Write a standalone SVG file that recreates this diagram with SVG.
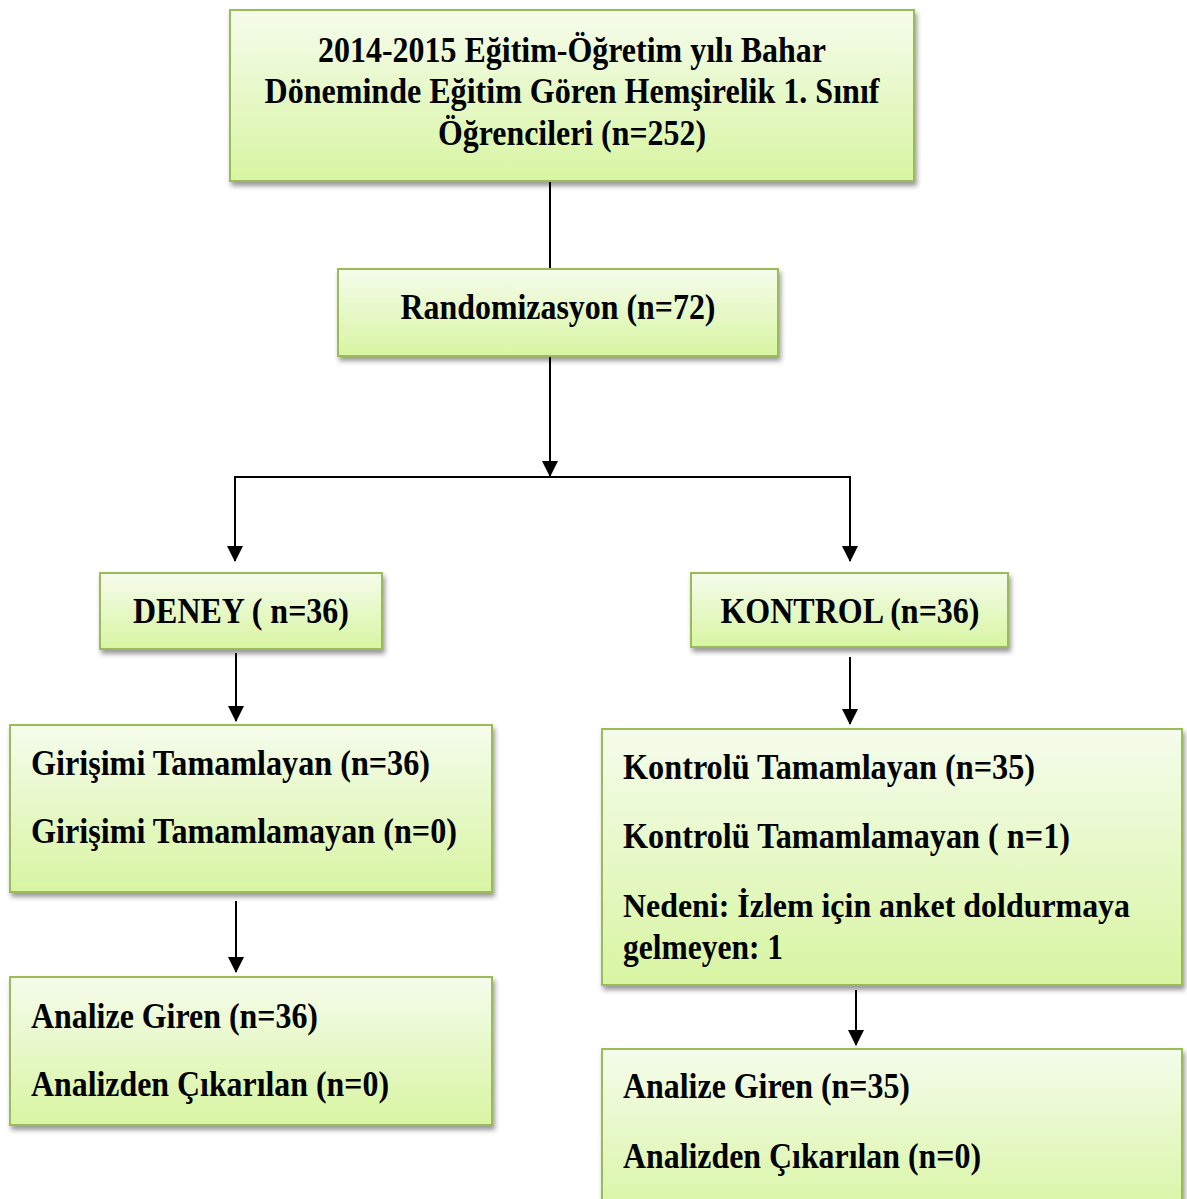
<svg xmlns="http://www.w3.org/2000/svg" width="1187" height="1199" viewBox="0 0 1187 1199">
<style>
.box{fill:url(#g);stroke:#9bbb59;stroke-width:2;filter:url(#sh)}
.t{font-family:"Liberation Serif","Times New Roman",serif;font-weight:bold;font-size:36px;fill:#000}
.c{text-anchor:middle}
.ln{stroke:#000;stroke-width:2;fill:none}
</style>
<defs>
<linearGradient id="g" x1="0" y1="0" x2="0" y2="1">
<stop offset="0" stop-color="#f5fcec"/>
<stop offset="1" stop-color="#d8f5a2"/>
</linearGradient>
<filter id="sh" x="-5%" y="-5%" width="115%" height="125%">
<feDropShadow dx="2" dy="4" stdDeviation="2.5" flood-color="#000" flood-opacity="0.4"/>
</filter>
<marker id="ah" markerWidth="16" markerHeight="16" viewBox="0 0 16 16" refX="15" refY="8" orient="auto" markerUnits="userSpaceOnUse">
<path d="M0,0 L16,8 L0,16 Z" fill="#000"/>
</marker>
</defs>
<g id="connectors">
<line class="ln" x1="550" y1="181" x2="550" y2="269"/>
<line class="ln" x1="550" y1="356" x2="550" y2="476" marker-end="url(#ah)"/>
<polyline class="ln" points="235,477 850,477 850,561" marker-end="url(#ah)"/>
<line class="ln" x1="235" y1="476" x2="235" y2="561" marker-end="url(#ah)"/>
<line class="ln" x1="236" y1="653" x2="236" y2="721" marker-end="url(#ah)"/>
<line class="ln" x1="850" y1="657" x2="850" y2="724" marker-end="url(#ah)"/>
<line class="ln" x1="236" y1="901" x2="236" y2="972" marker-end="url(#ah)"/>
<line class="ln" x1="856" y1="990" x2="856" y2="1045" marker-end="url(#ah)"/>
</g>
<g id="n1">
<rect class="box" x="230" y="10" width="684" height="171"/>
<text class="t c" x="572" y="62" textLength="508" lengthAdjust="spacingAndGlyphs">2014-2015 Eğitim-Öğretim yılı Bahar</text>
<text class="t c" x="572" y="103" textLength="615" lengthAdjust="spacingAndGlyphs">Döneminde Eğitim Gören Hemşirelik 1. Sınıf</text>
<text class="t c" x="572" y="145" textLength="268" lengthAdjust="spacingAndGlyphs">Öğrencileri (n=252)</text>
</g>
<g id="n2">
<rect class="box" x="338" y="269" width="440" height="87"/>
<text class="t c" x="558" y="319" textLength="315" lengthAdjust="spacingAndGlyphs">Randomizasyon (n=72)</text>
</g>
<g id="n3">
<rect class="box" x="100" y="573" width="282" height="76"/>
<text class="t c" x="241" y="623" textLength="216" lengthAdjust="spacingAndGlyphs">DENEY ( n=36)</text>
</g>
<g id="n4">
<rect class="box" x="691" y="573" width="317" height="74"/>
<text class="t c" x="850" y="623" textLength="259" lengthAdjust="spacingAndGlyphs">KONTROL (n=36)</text>
</g>
<g id="n5">
<rect class="box" x="10" y="725" width="482" height="167"/>
<text class="t" x="31" y="775" textLength="399" lengthAdjust="spacingAndGlyphs">Girişimi Tamamlayan (n=36)</text>
<text class="t" x="31" y="843" textLength="426" lengthAdjust="spacingAndGlyphs">Girişimi Tamamlamayan (n=0)</text>
</g>
<g id="n6">
<rect class="box" x="10" y="977" width="482" height="148"/>
<text class="t" x="31" y="1028" textLength="287" lengthAdjust="spacingAndGlyphs">Analize Giren (n=36)</text>
<text class="t" x="31" y="1096" textLength="358" lengthAdjust="spacingAndGlyphs">Analizden Çıkarılan (n=0)</text>
</g>
<g id="n7">
<rect class="box" x="602" y="729" width="580" height="256"/>
<text class="t" x="623" y="779" textLength="412" lengthAdjust="spacingAndGlyphs">Kontrolü Tamamlayan (n=35)</text>
<text class="t" x="623" y="848" textLength="447" lengthAdjust="spacingAndGlyphs">Kontrolü Tamamlamayan ( n=1)</text>
<text class="t" x="623" y="917" style="font-size:33px" textLength="507" lengthAdjust="spacingAndGlyphs">Nedeni: İzlem için anket doldurmaya</text>
<text class="t" x="623" y="959" textLength="160" lengthAdjust="spacingAndGlyphs">gelmeyen: 1</text>
</g>
<g id="n8">
<rect class="box" x="602" y="1049" width="580" height="170"/>
<text class="t" x="623" y="1098" textLength="287" lengthAdjust="spacingAndGlyphs">Analize Giren (n=35)</text>
<text class="t" x="623" y="1168" textLength="358" lengthAdjust="spacingAndGlyphs">Analizden Çıkarılan (n=0)</text>
</g>
</svg>
